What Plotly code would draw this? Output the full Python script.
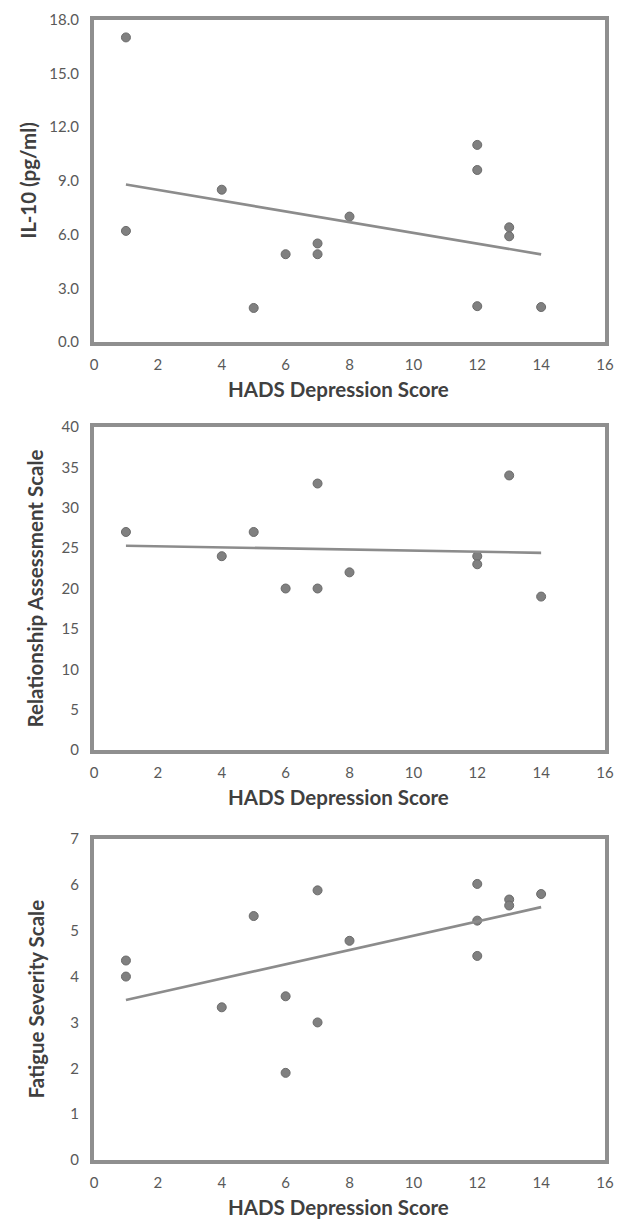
import numpy as np
import plotly.graph_objects as go

# HADS depression score (x) for each panel
hads_il10 = [1, 1, 4, 5, 6, 7, 7, 8, 12, 12, 12, 13, 13, 14]
il10 = [17.0, 6.2, 8.5, 1.9, 4.9, 5.5, 4.9, 7.0, 11.0, 9.6, 2.0, 6.4, 5.9, 1.95]

hads_ras = [1, 4, 5, 6, 7, 7, 8, 12, 12, 13, 14]
ras = [27, 24, 27, 20, 33, 20, 22, 24, 23, 34, 19]

hads_fss = [1, 1, 4, 5, 6, 6, 7, 7, 8, 12, 12, 12, 13, 13, 14]
fss = [4.35, 4.0, 3.33, 5.32, 3.57, 1.9, 5.88, 3.0, 4.78, 6.02, 5.22, 4.45, 5.68, 5.55, 5.8]

x_title = "HADS Depression Score"
y_titles = ["IL-10 (pg/ml)", "Relationship Assessment Scale", "Fatigue Severity Scale"]
y_ranges = [[0, 18], [0, 40], [0, 7]]
y_dticks = [3, 5, 1]
y_formats = [".1f", "d", "d"]

PAGE_OFF = 8  # default body margin of the page
W, H = 628 - PAGE_OFF, 1221 - PAGE_OFF
# page-pixel positions (converted below to figure coordinates)
panels_px = [(19.5, 342), (427, 750), (839, 1160)]  # top, bottom border centres
x_px = (94, 605)
ytitle_x_px = [28, 34, 36]
xtitle_y_px = [389, 797, 1207]
xtitle_x_px = 338


def fx(px):
    return (px - PAGE_OFF) / W


def fy(py):
    return 1 - (py - PAGE_OFF) / H


fig = go.Figure()
datasets = [(hads_il10, il10), (hads_ras, ras), (hads_fss, fss)]
for i, (xs, ys) in enumerate(datasets):
    ax = "" if i == 0 else str(i + 1)
    fig.add_trace(go.Scatter(
        x=xs, y=ys, mode="markers",
        marker=dict(size=9, color="#808080", line=dict(color="#6b6b6b", width=1)),
        xaxis="x" + ax, yaxis="y" + ax, showlegend=False, cliponaxis=False))
    coef = np.polyfit(xs, ys, 1)
    lx = [min(xs), max(xs)]
    ly = [coef[0] * v + coef[1] for v in lx]
    fig.add_trace(go.Scatter(
        x=lx, y=ly, mode="lines",
        line=dict(color="#8c8c8c", width=2.6),
        xaxis="x" + ax, yaxis="y" + ax, showlegend=False))

layout = dict(
    width=W, height=H,
    margin=dict(l=0, r=0, t=0, b=0),
    paper_bgcolor="white", plot_bgcolor="white",
    font=dict(family="Lato, Open Sans, sans-serif", color="#595959", size=15),
)
annotations = []
for i in range(3):
    top, bot = panels_px[i]
    sfx = "" if i == 0 else str(i + 1)
    xd = [fx(x_px[0]), fx(x_px[1])]
    yd = [fy(bot), fy(top)]
    layout["xaxis" + sfx] = dict(
        domain=xd, anchor="y" + sfx, range=[0, 16], dtick=2, tick0=0,
        showgrid=False, zeroline=False, showline=True, mirror=True,
        linecolor="#8f8f8f", linewidth=4, ticks="outside", ticklen=6,
        tickcolor="rgba(0,0,0,0)", tickfont=dict(size=15, color="#595959"),
        automargin=False,
    )
    layout["yaxis" + sfx] = dict(
        domain=yd, anchor="x" + sfx, range=y_ranges[i], dtick=y_dticks[i], tick0=0,
        tickformat=y_formats[i],
        showgrid=False, zeroline=False, showline=True, mirror=True,
        linecolor="#8f8f8f", linewidth=4, ticks="outside", ticklen=8,
        tickcolor="rgba(0,0,0,0)", tickfont=dict(size=15, color="#595959"),
        automargin=False,
    )
    annotations.append(dict(
        text="<b>" + y_titles[i] + "</b>", textangle=-90,
        xref="paper", yref="paper", x=fx(ytitle_x_px[i]), y=fy((top + bot) / 2),
        xanchor="center", yanchor="middle", showarrow=False,
        font=dict(size=20.5, color="#404040")))
    annotations.append(dict(
        text="<b>" + x_title + "</b>",
        xref="paper", yref="paper", x=fx(xtitle_x_px), y=fy(xtitle_y_px[i]),
        xanchor="center", yanchor="middle", showarrow=False,
        font=dict(size=20.5, color="#404040")))
layout["annotations"] = annotations
fig.update_layout(**layout)
fig.write_html("out.html")
